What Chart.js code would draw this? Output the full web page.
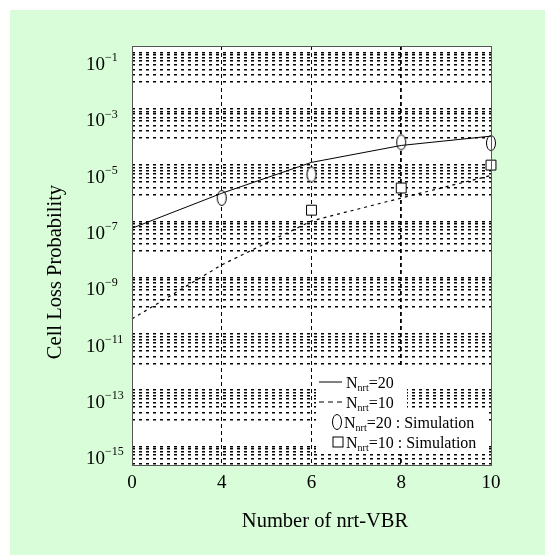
<!DOCTYPE html>
<html>
<head>
<meta charset="utf-8">
<script src="https://cdn.jsdelivr.net/npm/chart.js@4.4.0/dist/chart.umd.min.js"></script>
<style>
  html, body { margin: 0; padding: 0; background: #fff; }
  canvas { display: block; }
</style>
</head>
<body>
<canvas id="grafica" width="545" height="555"></canvas>
<script>
// Datos
const categorias = ['0', '4', '6', '8', '10'];
const teoria20 = [1.6e-7, 2.8e-6, 3.5e-5, 1.4e-4, 3.0e-4];
const teoria10 = [9.6e-11, 8.0e-9, 2.9e-7, 1.9e-6, 1.2e-5];
const simulacion20 = [null, 1.9e-6, 1.3e-5, 1.8e-4, 1.7e-4];
const simulacion10 = [null, null, 7.0e-7, 4.3e-6, 2.8e-5];
const etiquetasSeries = ['N_nrt=20', 'N_nrt=10', 'N_nrt=20 : Simulation', 'N_nrt=10 : Simulation'];
const exponentesY = [-1, -3, -5, -7, -9, -11, -13, -15];
const pasosMenores = [10, 9, 8, 7, 6, 5, 4, 3];

const FUENTE = '"Times New Roman", "Liberation Serif", serif';
const yMin = 10 ** -15.21;
const yMax = 10 ** -0.32;

// Marca elíptica de la simulación
function crearElipse() {
    const c = document.createElement('canvas');
    c.width = 12;
    c.height = 18;
    const g = c.getContext('2d');
    g.beginPath();
    g.ellipse(6, 9, 4.5, 7.5, 0, 0, 2 * Math.PI);
    g.fillStyle = '#fff';
    g.fill();
    g.strokeStyle = '#000';
    g.lineWidth = 1;
    g.stroke();
    return c;
}
const elipse = crearElipse();

// Líneas de rejilla del eje Y (bloques de dos décadas)
function construirMarcasY() {
    const marcas = [];
    for (const e of exponentesY.concat([1])) {
        const tope = e + 0.45;
        for (const k of pasosMenores) {
            const v = 10 ** (tope - 2 * Math.log10(10 / k));
            if (v > yMin && v < yMax) marcas.push({ value: v });
        }
    }
    return marcas.sort((a, b) => a.value - b.value);
}

// Texto con subíndice: "N_nrt=20" -> N, nrt, =20
function dibujarEtiqueta(ctx, texto, x, yBase) {
    const m = texto.match(/^(\w)_(\w+?)(=.*)$/);
    ctx.textAlign = 'left';
    ctx.textBaseline = 'alphabetic';
    ctx.font = '16px ' + FUENTE;
    ctx.fillText(m[1], x, yBase);
    x += ctx.measureText(m[1]).width;
    ctx.font = '10px ' + FUENTE;
    ctx.fillText(m[2], x, yBase + 3);
    x += ctx.measureText(m[2]).width;
    ctx.font = '16px ' + FUENTE;
    ctx.fillText(m[3], x, yBase);
}

const pluginFondo = {
    id: 'fondo',
    beforeDraw(chart) {
        const ctx = chart.ctx;
        const a = chart.chartArea;
        ctx.save();
        ctx.fillStyle = '#fff';
        ctx.fillRect(0, 0, chart.width, chart.height);
        ctx.fillStyle = '#d8fdd8';
        ctx.fillRect(10, 10, chart.width - 10, chart.height - 10);
        ctx.fillStyle = '#fff';
        ctx.fillRect(a.left, a.top, a.right - a.left, a.bottom - a.top);
        ctx.restore();
    }
};

const pluginDecoracion = {
    id: 'decoracion',
    afterDraw(chart) {
        const ctx = chart.ctx;
        const a = chart.chartArea;
        const escalaY = chart.scales.y;
        ctx.save();
        ctx.fillStyle = '#000';

        // Etiquetas del eje Y con exponente
        for (const e of exponentesY) {
            const y = escalaY.getPixelForValue(10 ** e);
            ctx.textAlign = 'left';
            ctx.textBaseline = 'middle';
            ctx.font = '19px ' + FUENTE;
            ctx.fillText('10', 86, y);
            const w = ctx.measureText('10').width;
            ctx.font = '12px ' + FUENTE;
            ctx.fillText('\u2212' + Math.abs(e), 86 + w, y - 7);
        }

        // Títulos de los ejes
        ctx.font = '20.5px ' + FUENTE;
        ctx.textAlign = 'center';
        ctx.textBaseline = 'middle';
        ctx.fillText('Number of nrt-VBR', 325, 522);
        ctx.save();
        ctx.translate(56, 272);
        ctx.rotate(-Math.PI / 2);
        ctx.fillText('Cell Loss Probability', 0, 0);
        ctx.restore();

        // Caja de la leyenda
        ctx.fillStyle = '#fff';
        ctx.fillRect(316, 366, 91, 88);
        ctx.fillRect(407, 411, 80, 43);

        // Leyenda
        const filas = [382, 402, 422, 442];
        ctx.strokeStyle = '#000';
        ctx.fillStyle = '#000';
        ctx.lineWidth = 1;
        ctx.beginPath();
        ctx.moveTo(319, filas[0]);
        ctx.lineTo(342, filas[0]);
        ctx.stroke();
        ctx.setLineDash([5, 4]);
        ctx.beginPath();
        ctx.moveTo(319, filas[1]);
        ctx.lineTo(342, filas[1]);
        ctx.stroke();
        ctx.setLineDash([]);
        ctx.drawImage(elipse, 337 - 6, filas[2] - 9);
        ctx.strokeRect(333, filas[3] - 5, 10, 10);
        dibujarEtiqueta(ctx, etiquetasSeries[0], 346, filas[0] + 5.5);
        dibujarEtiqueta(ctx, etiquetasSeries[1], 346, filas[1] + 5.5);
        dibujarEtiqueta(ctx, etiquetasSeries[2], 344, filas[2] + 5.5);
        dibujarEtiqueta(ctx, etiquetasSeries[3], 346, filas[3] + 5.5);

        // Marco del área de trazado
        ctx.strokeStyle = '#555';
        ctx.lineWidth = 1;
        ctx.strokeRect(a.left + 0.5, a.top + 0.5, a.right - a.left, a.bottom - a.top);
        ctx.restore();
    }
};

const grafica = new Chart(document.getElementById('grafica'), {
    type: 'line',
    data: {
        labels: categorias,
        datasets: [
            {
                label: etiquetasSeries[0],
                data: teoria20,
                borderColor: '#000',
                borderWidth: 1,
                pointRadius: 0,
                fill: false
            },
            {
                label: etiquetasSeries[1],
                data: teoria10,
                borderColor: '#000',
                borderWidth: 1.2,
                borderDash: [3, 4],
                pointRadius: 0,
                fill: false
            },
            {
                label: etiquetasSeries[2],
                data: simulacion20,
                showLine: false,
                pointStyle: elipse,
                pointRadius: 8
            },
            {
                label: etiquetasSeries[3],
                data: simulacion10,
                showLine: false,
                pointStyle: 'rect',
                pointRadius: 7,
                borderColor: '#000',
                borderWidth: 1,
                backgroundColor: '#fff'
            }
        ]
    },
    options: {
        responsive: false,
        animation: false,
        layout: { padding: { top: 46, right: 54, left: 0, bottom: 0 } },
        plugins: {
            legend: { display: false },
            tooltip: { enabled: false }
        },
        scales: {
            x: {
                type: 'category',
                offset: false,
                afterFit: s => { s.height = 90; },
                grid: {
                    offset: false,
                    drawTicks: false,
                    color: c => (c.index === 0 || c.index === 4) ? 'rgba(0,0,0,0)' : '#000',
                    lineWidth: c => c.index === 3 ? 1.8 : 1
                },
                border: { display: false, dash: [4, 3] },
                ticks: {
                    color: '#000',
                    font: { family: FUENTE, size: 19 },
                    padding: 7,
                    maxRotation: 0,
                    autoSkip: false
                }
            },
            y: {
                type: 'logarithmic',
                min: yMin,
                max: yMax,
                bounds: 'data',
                afterFit: s => { s.width = 132; },
                afterBuildTicks: s => { s.ticks = construirMarcasY(); },
                grid: { color: '#000', lineWidth: 1.5, drawTicks: false },
                border: { display: false, dash: [3, 4] },
                ticks: { display: false }
            }
        }
    },
    plugins: [pluginFondo, pluginDecoracion]
});
</script>
</body>
</html>
